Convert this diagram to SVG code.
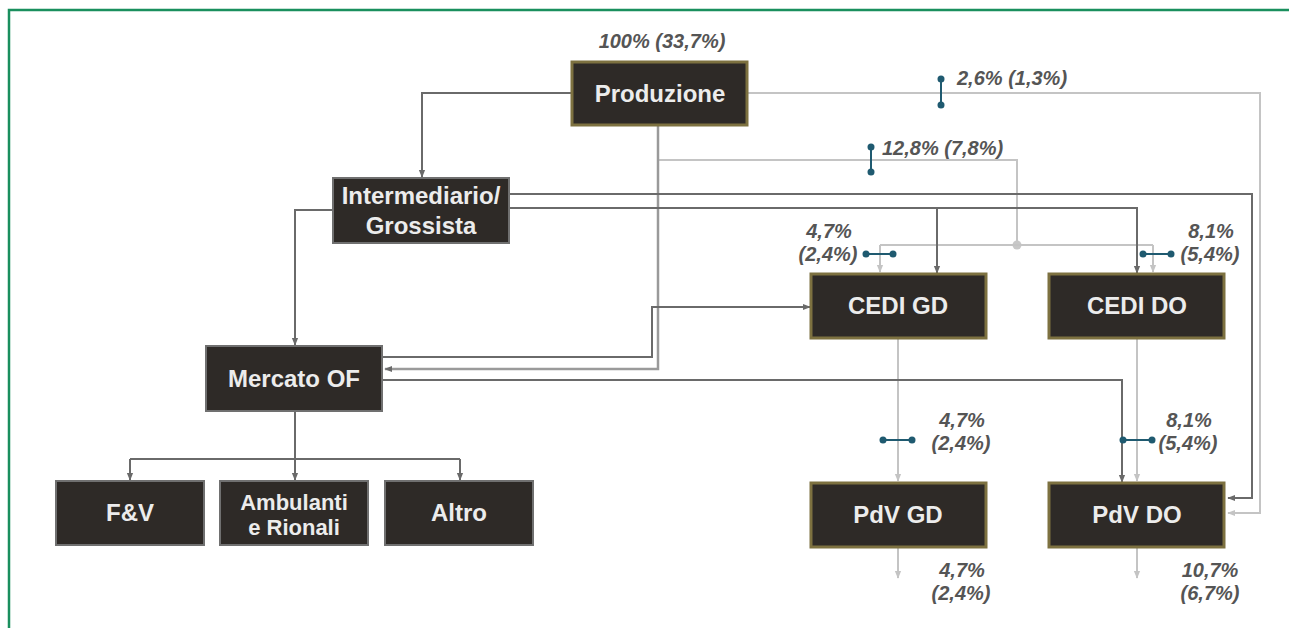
<svg xmlns="http://www.w3.org/2000/svg" width="1289" height="628" viewBox="0 0 1289 628">
<defs>
<style>
.nd{fill:#2e2a27}
.gold{stroke:#7d7140;stroke-width:3}
.grey{stroke:#707070;stroke-width:2}
.nt{font-family:"Liberation Sans",Arial,sans-serif;font-weight:bold;font-size:24px;fill:#ececec;text-anchor:middle}
.sm{font-size:22px}
.pt{font-family:"Liberation Sans",Arial,sans-serif;font-weight:bold;font-style:italic;font-size:20px;fill:#555;text-anchor:middle}
.dk{fill:none;stroke:#6a6a6a;stroke-width:2}
.md{fill:none;stroke:#9a9a9a;stroke-width:2.5}
.lt{fill:none;stroke:#c4c4c4;stroke-width:2}
.bl{fill:none;stroke:#1f5a70;stroke-width:2}
.bd{fill:#1f5a70}
</style>
<marker id="ad" viewBox="0 0 10 10" refX="9" refY="5" markerWidth="8" markerHeight="8" markerUnits="userSpaceOnUse" orient="auto"><path d="M0,1 L10,5 L0,9 z" fill="#6a6a6a"/></marker>
<marker id="al" viewBox="0 0 10 10" refX="9" refY="5" markerWidth="8" markerHeight="8" markerUnits="userSpaceOnUse" orient="auto"><path d="M0,1 L10,5 L0,9 z" fill="#c4c4c4"/></marker>
</defs>
<rect x="0" y="0" width="1289" height="628" fill="#fff"/>
<path d="M9,628 V10 H1289" fill="none" stroke="#1a8f5e" stroke-width="2.5"/>

<g id="connectors">
<path class="lt" d="M747,93 H1260 V513 H1228" marker-end="url(#al)"/>
<path class="lt" d="M658,160 H1017 V245"/>
<circle cx="1017" cy="245" r="4.5" fill="#c8c8c8"/>
<path class="lt" d="M880,245 H1153" stroke-width="1.2"/>
<path class="lt" d="M880,245 V272" marker-end="url(#al)"/>
<path class="lt" d="M1153,245 V272" marker-end="url(#al)"/>
<path class="lt" d="M898,339 V481" marker-end="url(#al)"/>
<path class="lt" d="M1137,339 V481" marker-end="url(#al)"/>
<path class="lt" d="M898,548 V578" marker-end="url(#al)"/>
<path class="lt" d="M1137,548 V578" marker-end="url(#al)"/>
<path class="md" d="M658,126 V369 H385" marker-end="url(#ad)"/>
<path class="dk" d="M572,93 H422 V177" marker-end="url(#ad)"/>
<path class="dk" d="M333,210 H295 V345" marker-end="url(#ad)"/>
<path class="dk" d="M509,194 H1252 V498 H1228" marker-end="url(#ad)"/>
<path class="dk" d="M509,208 H1137 V273" marker-end="url(#ad)"/>
<path class="dk" d="M937,208 V273" marker-end="url(#ad)"/>
<path class="dk" d="M382,357 H652 V307 H810" marker-end="url(#ad)"/>
<path class="dk" d="M382,380 H1122 V482" marker-end="url(#ad)"/>
<path class="dk" d="M295,411 V459 M130,459 H460"/>
<path class="dk" d="M130,459 V480" marker-end="url(#ad)"/>
<path class="dk" d="M295,459 V480" marker-end="url(#ad)"/>
<path class="dk" d="M460,459 V480" marker-end="url(#ad)"/>
</g>

<g id="markers">
<path class="bl" d="M941,79 V105"/><circle class="bd" cx="941" cy="79" r="3.5"/><circle class="bd" cx="941" cy="105" r="3.5"/>
<path class="bl" d="M871,147 V172"/><circle class="bd" cx="871" cy="147" r="3.5"/><circle class="bd" cx="871" cy="172" r="3.5"/>
<path class="bl" d="M866,254 H893"/><circle class="bd" cx="866" cy="254" r="3.5"/><circle class="bd" cx="893" cy="254" r="3.5"/>
<path class="bl" d="M1143,254 H1171"/><circle class="bd" cx="1143" cy="254" r="3.5"/><circle class="bd" cx="1171" cy="254" r="3.5"/>
<path class="bl" d="M883,440 H912"/><circle class="bd" cx="883" cy="440" r="3.5"/><circle class="bd" cx="912" cy="440" r="3.5"/>
<path class="bl" d="M1123,440 H1152"/><circle class="bd" cx="1123" cy="440" r="3.5"/><circle class="bd" cx="1152" cy="440" r="3.5"/>
</g>

<g id="labels">
<text class="pt" x="662" y="48">100% (33,7%)</text>
<text class="pt" x="957" y="85" style="text-anchor:start">2,6% (1,3%)</text>
<text class="pt" x="882" y="155" style="text-anchor:start">12,8% (7,8%)</text>
<text class="pt" x="829" y="238">4,7%</text>
<text class="pt" x="828" y="261">(2,4%)</text>
<text class="pt" x="1211" y="238">8,1%</text>
<text class="pt" x="1210" y="261">(5,4%)</text>
<text class="pt" x="962" y="427">4,7%</text>
<text class="pt" x="961" y="450">(2,4%)</text>
<text class="pt" x="1189" y="427">8,1%</text>
<text class="pt" x="1188" y="450">(5,4%)</text>
<text class="pt" x="962" y="577">4,7%</text>
<text class="pt" x="961" y="600">(2,4%)</text>
<text class="pt" x="1210" y="577">10,7%</text>
<text class="pt" x="1210" y="600">(6,7%)</text>
</g>

<g id="produzione"><rect class="nd gold" x="572" y="62" width="175" height="63"/><text class="nt" x="660" y="102">Produzione</text></g>
<g id="intermediario"><rect class="nd grey" x="333" y="178" width="176" height="65"/><text class="nt" x="421" y="204">Intermediario/</text><text class="nt" x="421" y="234">Grossista</text></g>
<g id="mercato"><rect class="nd grey" x="206" y="346" width="176" height="65"/><text class="nt" x="294" y="387">Mercato OF</text></g>
<g id="fv"><rect class="nd grey" x="56" y="481" width="148" height="64"/><text class="nt" x="130" y="521">F&amp;V</text></g>
<g id="ambulanti"><rect class="nd grey" x="220" y="481" width="148" height="64"/><text class="nt sm" x="294" y="510">Ambulanti</text><text class="nt sm" x="294" y="535">e Rionali</text></g>
<g id="altro"><rect class="nd grey" x="385" y="481" width="148" height="64"/><text class="nt" x="459" y="521">Altro</text></g>
<g id="cedigd"><rect class="nd gold" x="811" y="274" width="175" height="64"/><text class="nt" x="898" y="314">CEDI GD</text></g>
<g id="cedido"><rect class="nd gold" x="1049" y="274" width="175" height="64"/><text class="nt" x="1137" y="314">CEDI DO</text></g>
<g id="pdvgd"><rect class="nd gold" x="811" y="483" width="175" height="64"/><text class="nt" x="898" y="523">PdV GD</text></g>
<g id="pdvdo"><rect class="nd gold" x="1049" y="483" width="175" height="64"/><text class="nt" x="1137" y="523">PdV DO</text></g>
</svg>
